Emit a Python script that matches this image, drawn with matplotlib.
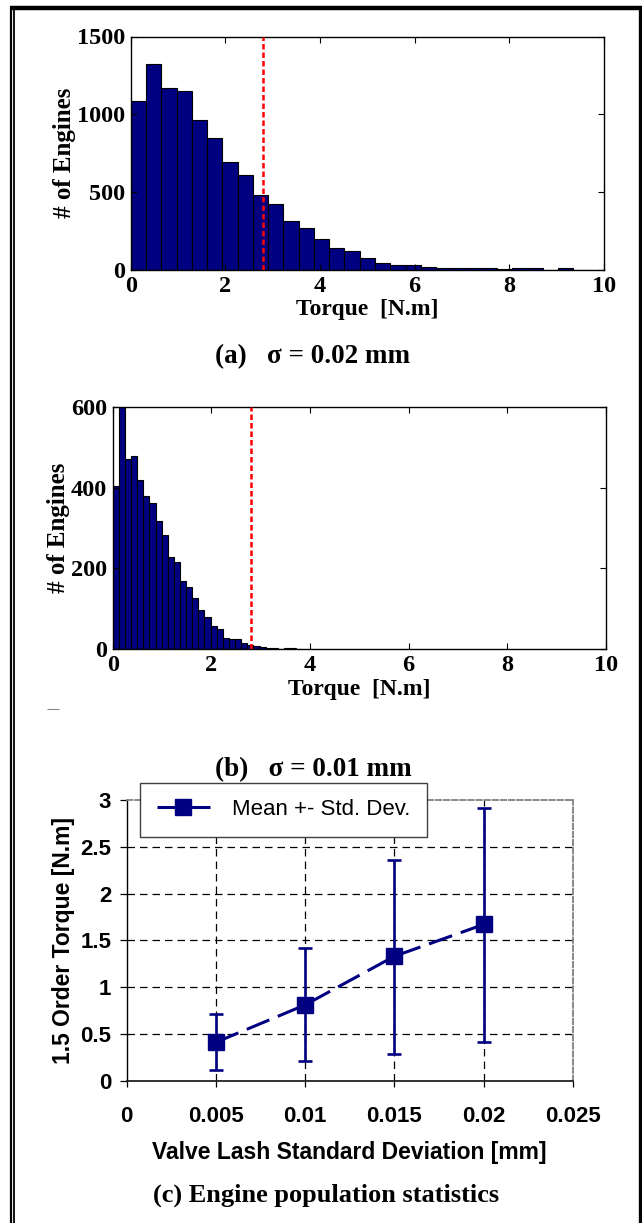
import matplotlib
matplotlib.use('Agg')
import matplotlib.pyplot as plt
import numpy as np
from matplotlib.lines import Line2D

# ---------------- data ----------------
# (a) sigma = 0.02 mm : histogram counts, 31 bins over 0..10 N.m
counts_a = [1083, 1325, 1171, 1149, 966, 850, 697, 613, 485, 423, 314, 269,
            201, 139, 124, 77, 47, 32, 32, 21, 15, 11, 11, 11, 5, 10, 10, 3,
            10, 3, 3]
bin_width_a = 10 / 31
# (b) sigma = 0.01 mm : histogram counts (second bin exceeds the 600 axis limit)
counts_b = [403, 650, 470, 477, 419, 378, 363, 317, 283, 228, 216, 168, 155,
            127, 96, 80, 58, 49, 27, 25, 25, 16, 10, 8, 5, 3, 3, 1, 4, 4, 0]
bin_width_b = 0.124
threshold = 2.8

# (c) engine population statistics
lash_sigma = [0.005, 0.01, 0.015, 0.02]
mean_torque = [0.41, 0.81, 1.33, 1.67]
upper_torque = [0.71, 1.42, 2.36, 2.91]
lower_torque = [0.11, 0.21, 0.29, 0.41]

hist_xticks = [0, 2, 4, 6, 8, 10]
yticks_a = [0, 500, 1000, 1500]
yticks_b = [0, 200, 400, 600]
xticks_c = [0, 0.005, 0.01, 0.015, 0.02, 0.025]
xticklabels_c = ['0', '0.005', '0.01', '0.015', '0.02', '0.025']
yticks_c = [0, 0.5, 1, 1.5, 2, 2.5, 3]
yticklabels_c = ['0', '0.5', '1', '1.5', '2', '2.5', '3']

W, H = 642, 1223
fig = plt.figure(figsize=(W / 100, H / 100), dpi=100)

SERIF = ['Liberation Serif', 'DejaVu Serif']
SANS = ['Liberation Sans', 'DejaVu Sans']
NAVY = '#000080'


def px_rect(left, top, right, bottom):
    return [left / W, 1 - bottom / H, (right - left) / W, (bottom - top) / H]


def hist_axes(rect, counts, width, ylim, yticks):
    ax = fig.add_axes(rect)
    edges = np.arange(len(counts)) * width
    ax.bar(edges, counts, width=width, align='edge', color=NAVY,
           edgecolor='black', linewidth=0.8)
    ax.axvline(threshold, color='#ff0000', lw=1.8, ls=(0, (2.2, 1.2)), zorder=5)
    ax.set_xlim(0, 10)
    ax.set_ylim(*ylim)
    ax.set_xticks(hist_xticks)
    ax.set_yticks(yticks)
    ax.tick_params(direction='in', top=True, right=True, length=4, width=0.8,
                   labelsize=17.5, pad=4)
    for lab in ax.get_xticklabels() + ax.get_yticklabels():
        lab.set_fontfamily(SERIF)
        lab.set_fontweight('bold')
    for s in ax.spines.values():
        s.set_linewidth(1.0)
    ax.set_xlabel('Torque  [N.m]', fontsize=17, fontweight='bold',
                  family=SERIF, labelpad=2)
    ax.set_ylabel('# of Engines', fontsize=18, fontweight='bold',
                  family=SERIF, labelpad=1)
    return ax


ax1 = hist_axes(px_rect(130.7, 36.5, 604, 270), counts_a, bin_width_a,
                (0, 1500), yticks_a)
ax2 = hist_axes(px_rect(112.8, 406.7, 605.8, 649.3), counts_b, bin_width_b,
                (0, 600), yticks_b)

# ---------------- (c) ----------------
ax3 = fig.add_axes(px_rect(126.5, 800, 573, 1080.7))
ax3.set_xlim(0, 0.025)
ax3.set_ylim(0, 3)
for xv in xticks_c[1:-1]:
    ax3.axvline(xv, color='black', lw=0.9, ls=(0, (6, 4)), zorder=1)
for yv in yticks_c[1:-1]:
    ax3.axhline(yv, color='black', lw=0.9, ls=(0, (6, 4)), zorder=1)

err_lo = np.array(mean_torque) - np.array(lower_torque)
err_hi = np.array(upper_torque) - np.array(mean_torque)
ax3.errorbar(lash_sigma, mean_torque, yerr=[err_lo, err_hi], fmt='none',
             ecolor=NAVY, elinewidth=1.9, capsize=5, capthick=1.9, zorder=3)
ax3.plot(lash_sigma, mean_torque, color=NAVY, lw=2.2, ls=(0, (8, 3)),
         marker='s', markersize=11.5, markerfacecolor=NAVY,
         markeredgecolor=NAVY, label='Mean +- Std. Dev.', zorder=4)

ax3.set_xticks(xticks_c)
ax3.set_xticklabels(xticklabels_c)
ax3.set_yticks(yticks_c)
ax3.set_yticklabels(yticklabels_c)
ax3.tick_params(axis='x', direction='out', length=4.5, width=0.9, pad=14,
                labelsize=16)
ax3.tick_params(axis='y', direction='out', length=5, width=0.9, pad=6,
                labelsize=16)
for lab in ax3.get_xticklabels() + ax3.get_yticklabels():
    lab.set_fontfamily(SANS)
    lab.set_fontweight('bold')
ax3.spines['left'].set_color('black')
ax3.spines['bottom'].set_color('#222222')
ax3.spines['left'].set_linewidth(1.0)
ax3.spines['bottom'].set_linewidth(1.3)
for side in ('top', 'right'):
    ax3.spines[side].set_color('#808080')
    ax3.spines[side].set_linestyle((0, (3, 1.5)))
    ax3.spines[side].set_linewidth(1.3)
ax3.set_xlabel('Valve Lash Standard Deviation [mm]', fontsize=16.5,
               fontweight='bold', family=SANS, labelpad=10)
ax3.set_ylabel('1.5 Order Torque [N.m]', fontsize=16.5, fontweight='bold',
               family=SANS, labelpad=4)
leg = ax3.legend(loc='upper left', bbox_to_anchor=(0.03, 1.062),
                 frameon=True, fancybox=False, edgecolor='#404040',
                 framealpha=1, prop={'family': SANS, 'size': 16},
                 handlelength=2.4, borderpad=0.75, handletextpad=1.0,
                 borderaxespad=0)
leg.get_frame().set_linewidth(1.0)
leg.set_zorder(10)

# ---------------- captions ----------------
fig.text(313 / W, 1 - 357 / H, '(a)   σ = 0.02 mm', ha='center', va='center',
         fontsize=19.5, fontweight='bold', family=SERIF)
fig.text(313 / W, 1 - 770 / H, '(b)   σ = 0.01 mm', ha='center', va='center',
         fontsize=19.5, fontweight='bold', family=SERIF)
fig.text(326 / W, 1 - 1195 / H, '(c) Engine population statistics',
         ha='center', va='center', fontsize=19, fontweight='bold',
         family=SERIF)

# ---------------- page frame ----------------
def fline(x0, y0, x1, y1, lw, color='black'):
    fig.add_artist(Line2D([x0 / W, x1 / W], [1 - y0 / H, 1 - y1 / H],
                          transform=fig.transFigure, lw=lw, color=color,
                          solid_capstyle='butt'))

fline(10, 7.8, 642, 7.8, 3.2)
fline(11, 5.7, 11, H, 1.6)
fline(14.2, 9, 14.2, H, 1.3)
fline(640.3, 5.7, 640.3, H, 2.4)
fline(47, 709.3, 59, 709.3, 0.8, '#888888')

fig.savefig('out.png', dpi=100)
